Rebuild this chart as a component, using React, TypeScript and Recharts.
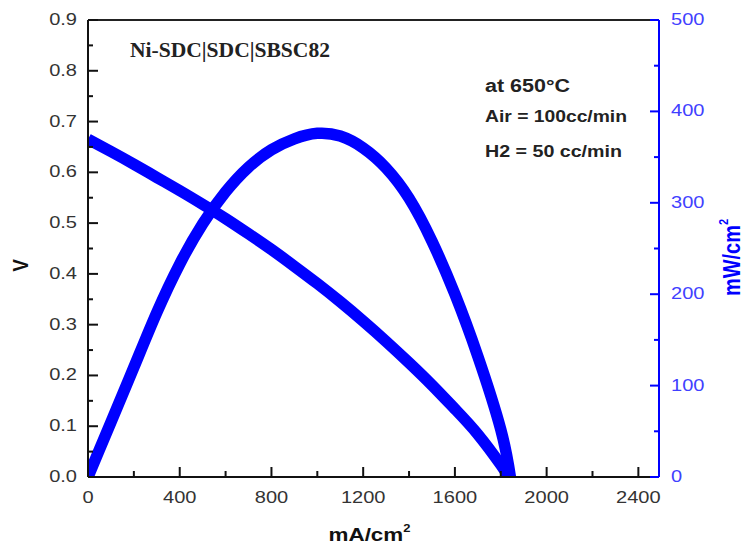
import React from 'react';
import { LineChart, Line, XAxis, YAxis, ReferenceLine, Customized, Label } from 'recharts';

// ---- data ----
const currentV = [0, 100, 200, 300, 400, 500, 600, 700, 800, 900, 1000, 1100, 1200, 1300, 1400, 1500, 1600, 1700, 1800, 1834];
const voltage = [0.665, 0.641, 0.616, 0.59, 0.564, 0.537, 0.509, 0.479, 0.448, 0.415, 0.381, 0.345, 0.307, 0.267, 0.225, 0.181, 0.134, 0.084, 0.024, 0];

const currentP = [0, 50, 100, 200, 300, 400, 500, 600, 700, 800, 900, 1000, 1100, 1200, 1300, 1400, 1500, 1600, 1700, 1800, 1842];
const power = [0, 30, 60, 120, 180, 233, 277, 312, 339, 358, 370, 376, 373, 360, 338, 305, 258, 200, 132, 52, 0];

const xTicks = [0, 200, 400, 600, 800, 1000, 1200, 1400, 1600, 1800, 2000, 2200, 2400];
const vTicks = [0, 0.05, 0.1, 0.15, 0.2, 0.25, 0.3, 0.35, 0.4, 0.45, 0.5, 0.55, 0.6, 0.65, 0.7, 0.75, 0.8, 0.85, 0.9];
const pTicks = [0, 50, 100, 150, 200, 250, 300, 350, 400, 450, 500];

const title = 'Ni-SDC|SDC|SBSC82';
const notes = ['at 650°C', 'Air = 100cc/min', 'H2 = 50 cc/min'];

const vData = currentV.map((c, i) => ({ i: c, v: voltage[i] }));
const pData = currentP.map((c, i) => ({ i: c, p: power[i] }));

const FONT = "Arial, 'Liberation Sans', Helvetica, sans-serif";
const SERIF = "'Times New Roman', 'Liberation Serif', serif";
const SX = 1.18;
const BLUE = '#0000ff';
const TICK_BLUE = '#4040ff';

function XTick(props: any) {
  const { x, y, payload } = props;
  const val = payload.value;
  const major = val % 400 === 0;
  return (
    <g>
      <line x1={x} x2={x} y1={y} y2={y - (major ? 10 : 6)} stroke="#111" strokeWidth={2} />
      {major && (
        <text transform={`translate(${x},${y + 26}) scale(${SX},1)`} textAnchor="middle" fontSize={17} fill="#333" fontFamily={FONT}>
          {val}
        </text>
      )}
    </g>
  );
}

function VTick(props: any) {
  const { x, y, payload } = props;
  const val = payload.value;
  const major = Math.round(val * 100) % 10 === 0;
  return (
    <g>
      <line x1={x} x2={x + (major ? 10 : 5)} y1={y} y2={y} stroke="#111" strokeWidth={2} />
      {major && (
        <text transform={`translate(${x - 11},${y + 5}) scale(${SX},1)`} textAnchor="end" fontSize={17} fill="#333" fontFamily={FONT}>
          {val.toFixed(1)}
        </text>
      )}
    </g>
  );
}

function PTick(props: any) {
  const { x, y, payload } = props;
  const val = payload.value;
  const major = val % 100 === 0;
  return (
    <g>
      <line x1={x} x2={x - (major ? 9 : 5)} y1={y} y2={y} stroke={BLUE} strokeWidth={2} />
      {major && (
        <text transform={`translate(${x + 12},${y + 5}) scale(${SX},1)`} textAnchor="start" fontSize={17} fill={TICK_BLUE} fontFamily={FONT}>
          {val}
        </text>
      )}
    </g>
  );
}

function Annotations() {
  return (
    <g>
      <text x={130} y={57} fontFamily={SERIF} fontWeight="bold" fontSize={20} fill="#222" textLength={200} lengthAdjust="spacingAndGlyphs">
        {title}
      </text>
      <text x={485} y={92} fontFamily={FONT} fontWeight="bold" fontSize={18} fill="#222" textLength={85} lengthAdjust="spacingAndGlyphs">
        {notes[0]}
      </text>
      <text x={485} y={122} fontFamily={FONT} fontWeight="bold" fontSize={16} fill="#222" textLength={142} lengthAdjust="spacingAndGlyphs">
        {notes[1]}
      </text>
      <text x={485} y={157} fontFamily={FONT} fontWeight="bold" fontSize={16} fill="#222" textLength={137} lengthAdjust="spacingAndGlyphs">
        {notes[2]}
      </text>
    </g>
  );
}

export default function App() {
  return (
    <div style={{ position: 'absolute', left: 0, top: 0, width: 745, height: 544, background: '#fff' }}>
      <LineChart width={745} height={544} margin={{ top: 20, right: 26, bottom: 27, left: 20 }}>
        <XAxis
          dataKey="i"
          type="number"
          domain={[0, 2490]}
          ticks={xTicks}
          interval={0}
          allowDataOverflow
          tickSize={0}
          tickMargin={0}
          tickLine={false}
          tick={(p: any) => <XTick {...p} />}
          axisLine={{ stroke: '#111', strokeWidth: 2 }}
          height={40}
        >
          <Label
            content={(lp: any) => {
              const vb = lp.viewBox || { x: 88, y: 477, width: 571 };
              const cx = vb.x + vb.width / 2 - 4;
              return (
                <text transform={`translate(${cx},${vb.y + 64}) scale(${SX},1)`} textAnchor="middle" fontFamily={FONT} fontWeight="bold" fontSize={19} fill="#111">
                  <tspan>mA/cm</tspan>
                  <tspan fontSize={11} dy={-9}>2</tspan>
                </text>
              );
            }}
          />
        </XAxis>
        <YAxis
          yAxisId="v"
          orientation="left"
          type="number"
          domain={[0, 0.9]}
          ticks={vTicks}
          interval={0}
          allowDataOverflow
          tickSize={0}
          tickMargin={0}
          tickLine={false}
          tick={(p: any) => <VTick {...p} />}
          axisLine={{ stroke: '#111', strokeWidth: 2 }}
          width={68}
        >
          <Label
            content={(lp: any) => {
              const vb = lp.viewBox || { x: 20, y: 20, height: 457 };
              return (
                <text transform={`translate(${vb.x + 8},${vb.y + vb.height / 2 + 17}) scale(${SX},1) rotate(-90)`} textAnchor="middle" fontFamily={FONT} fontWeight="bold" fontSize={19} fill="#111">
                  V
                </text>
              );
            }}
          />
        </YAxis>
        <YAxis
          yAxisId="p"
          orientation="right"
          type="number"
          domain={[0, 500]}
          ticks={pTicks}
          interval={0}
          allowDataOverflow
          tickSize={0}
          tickMargin={0}
          tickLine={false}
          tick={(p: any) => <PTick {...p} />}
          axisLine={{ stroke: BLUE, strokeWidth: 2 }}
          width={60}
        >
          <Label
            content={(lp: any) => {
              const vb = lp.viewBox || { x: 659, y: 20, height: 457 };
              return (
                <text transform={`translate(${vb.x + 81},${vb.y + vb.height / 2 + 9}) scale(${SX},1) rotate(-90)`} textAnchor="middle" fontFamily={FONT} fontWeight="bold" fontSize={20} fill={BLUE}>
                  <tspan>mW/cm</tspan>
                  <tspan fontSize={11} dy={-10}>2</tspan>
                </text>
              );
            }}
          />
        </YAxis>
        <ReferenceLine yAxisId="v" y={0.9} stroke="#222" strokeWidth={2} />
        <Line
          yAxisId="v"
          data={vData}
          dataKey="v"
          type="natural"
          stroke={BLUE}
          strokeWidth={11.5}
          dot={false}
          activeDot={false}
          isAnimationActive={false}
        />
        <Line
          yAxisId="p"
          data={pData}
          dataKey="p"
          type="natural"
          stroke={BLUE}
          strokeWidth={11.5}
          dot={false}
          activeDot={false}
          isAnimationActive={false}
        />
        <Customized component={<Annotations />} />
      </LineChart>
    </div>
  );
}
